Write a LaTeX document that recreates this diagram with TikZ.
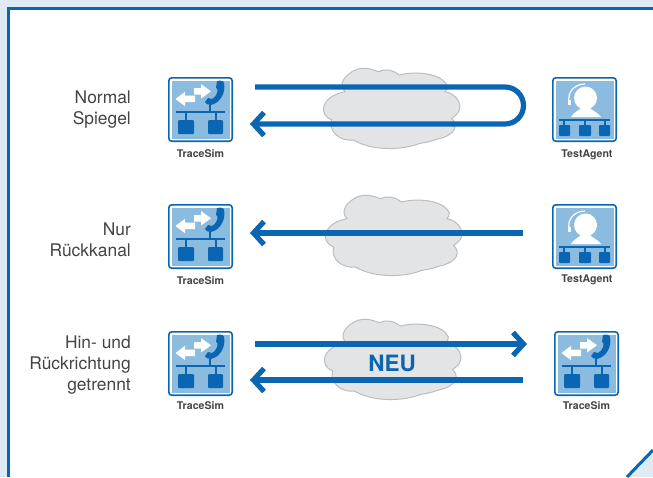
\documentclass[tikz,border=0pt]{standalone}
\usepackage{fontspec}
\setmainfont{TeX Gyre Heros}
\usetikzlibrary{arrows.meta}
\definecolor{bl}{HTML}{0A65B2}
\definecolor{lb}{HTML}{8CBBE0}
\definecolor{pg}{HTML}{DEEAF4}
\definecolor{cf}{HTML}{E3E4E6}
\definecolor{cs}{HTML}{BCBDC0}
\definecolor{tx}{HTML}{444444}
\tikzset{
  x=1pt,y=-1pt,
  conn/.style={draw=bl,line width=5.2pt,-{Straight Barb[length=10.5pt,width=23pt,line width=5.2pt]}},
  lab/.style={font=\fontsize{17.4}{21}\selectfont,text=tx,align=right,anchor=east,inner sep=0pt},
  small/.style={font=\bfseries\fontsize{10.6}{12}\selectfont,text=tx,inner sep=0pt},
  frameline/.style={draw=bl,line width=3pt},
  cloud shape/.pic={
    \draw[fill=cf,draw=cs,line width=1pt,x=0.3333pt,y=-0.3333pt]
      (105,95) .. controls (85,75) and (100,45) .. (140,28)
      .. controls (160,22) and (180,25) .. (205,35)
      .. controls (225,25) and (250,30) .. (268,45)
      .. controls (330,30) and (400,45) .. (412,78)
      .. controls (412,85) and (410,90) .. (405,95)
      .. controls (440,100) and (475,145) .. (425,175)
      .. controls (445,195) and (440,225) .. (380,238)
      .. controls (360,245) and (345,248) .. (330,250)
      .. controls (280,270) and (190,275) .. (130,240)
      .. controls (90,245) and (55,215) .. (65,180)
      .. controls (25,165) and (30,110) .. (105,95) -- cycle;
  },
  icon frame/.pic={
    \draw[draw=bl,line width=1.6pt,fill=white,rounded corners=3pt] (0.8,0.8) rectangle (64.2,64.2);
    \fill[lb] (3.5,3.5) rectangle (61.5,61.5);
  },
  tracesim/.pic={
    \pic {icon frame};
    \draw[bl,line width=1.7pt] (8,35) -- (57,35);
    \draw[bl,line width=1.5pt] (18,35) -- (18,44) (48,35) -- (48,44) (42,35) -- (42,28);
    \fill[bl,rounded corners=1pt] (10,43) rectangle (26,57);
    \fill[bl,rounded corners=1pt] (40,43) rectangle (55,57);
    \fill[white] (26,11) -- (33,11) -- (33,7) -- (43,14.3) -- (33,21.5) -- (33,17.5) -- (26,17.5) -- cycle;
    \fill[white] (27,18.6) -- (17,18.6) -- (17,14.8) -- (7.5,22) -- (17,29.2) -- (17,25.2) -- (27,25.2) -- cycle;
    \fill[bl] (49,4) .. controls (53,3) and (56,4) .. (56,6)
      .. controls (58,16) and (52,26) .. (43,28)
      .. controls (40,28) and (38,27) .. (37,25)
      -- (40,21) -- (44,22)
      .. controls (48,20) and (50,15) .. (49.5,12)
      -- (48,11) -- cycle;
  },
  testagent/.pic={
    \pic {icon frame};
    \draw[bl,line width=1.7pt] (7,43) -- (58,43);
    \draw[bl,line width=1.5pt] (12,43) -- (12,49) (33,43) -- (33,49) (53,43) -- (53,49);
    \fill[bl,rounded corners=.8pt] (7,48) rectangle (18,59);
    \fill[bl,rounded corners=.8pt] (27,48) rectangle (39,59);
    \fill[bl,rounded corners=.8pt] (47,48) rectangle (58,59);
    \fill[white] (33.5,21) circle (11.5);
    \fill[white] (19,40) .. controls (22,35) and (27,33.5) .. (29,31) -- (38,31)
      .. controls (40,33.5) and (45,35) .. (49,40) -- cycle;
    \draw[white,line width=1.2pt] (17.5,27) .. controls (14,15) and (23,7) .. (33,7);
    \fill[white] (16,23) rectangle (19,28);
  }
}
\begin{document}
\begin{tikzpicture}
\useasboundingbox (0,0) rectangle (653,477);
\fill[pg] (0,0) rectangle (653,477);
\fill[white] (8.5,8.5) -- (653,8.5) -- (653,450) -- (626,477) -- (8.5,477) -- cycle;
\draw[frameline] (8.5,477) -- (8.5,8.5) -- (653,8.5);
\draw[frameline] (653,450) -- (627,477);
\pic at (310,60) {cloud shape};
\pic at (312,187) {cloud shape};
\pic at (311,311) {cloud shape};
\pic at (168,77) {tracesim};
\pic at (552,77) {testagent};
\pic at (168,204) {tracesim};
\pic at (552,204) {testagent};
\pic at (168,331) {tracesim};
\pic at (554,331) {tracesim};
\node[small] (l1) at (200.5,153.5) {TraceSim};
\node[small] (l2) at (587,155) {TestAgent};
\node[small] (l3) at (200.5,280.5) {TraceSim};
\node[small] (l4) at (587,280) {TestAgent};
\node[small] (l5) at (200.5,405.5) {TraceSim};
\node[small] (l6) at (586.5,405.5) {TraceSim};
\node[lab] (t1) at (131,109.7) {Normal\\Spiegel};
\node[lab] (t2) at (131,240) {Nur\\Rückkanal};
\node[lab] (t3) at (131,364.7) {Hin- und\\Rückrichtung\\getrennt};
\coordinate (a1) at (255,87);
\coordinate (a2) at (505,87);
\coordinate (a4) at (250,124);
\draw[conn] (a1) -- (a2) arc[start angle=-90,end angle=90,radius=18.5] -- (a4);
\coordinate (b1) at (523,233);
\coordinate (b2) at (250,233);
\draw[conn] (b1) -- (b2);
\coordinate (c1) at (255,344);
\coordinate (c2) at (527,344);
\coordinate (c3) at (523,380);
\coordinate (c4) at (250,380);
\draw[conn] (c1) -- (c2);
\draw[conn] (c3) -- (c4);
\node[font=\bfseries\fontsize{22.5}{24}\selectfont,text=bl,inner sep=0pt] (neu) at (392,363.5) {NEU};
\end{tikzpicture}
\end{document}
